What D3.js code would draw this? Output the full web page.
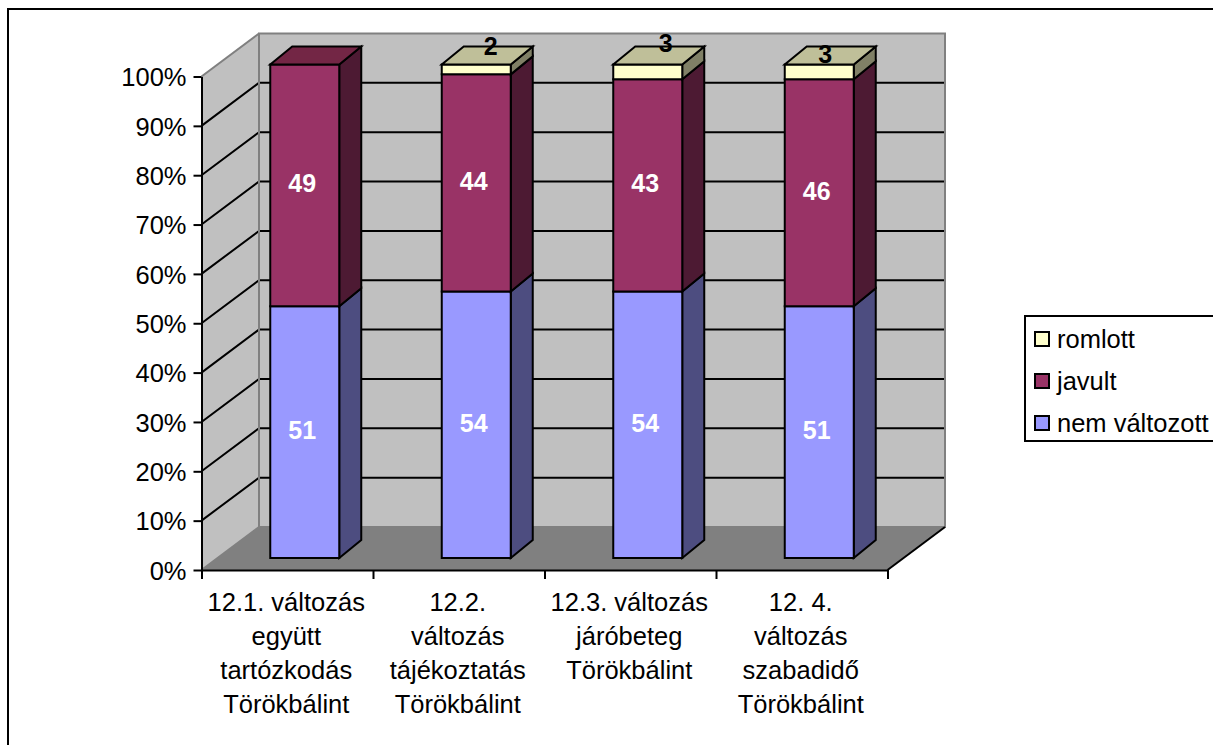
<!DOCTYPE html>
<html>
<head>
<meta charset="utf-8">
<script src="https://cdn.jsdelivr.net/npm/d3@7"></script>
<style>
  html, body { margin: 0; padding: 0; background: #fff; }
  svg { display: block; }
  text { font-family: "Liberation Sans", Arial, sans-serif; fill: #000; }
</style>
</head>
<body>
<svg id="chart" width="1213" height="745"></svg>
<script>
// Survey results per question, stacked to 100%
const categories = ["q1", "q2", "q3", "q4"];
const categoryLines = [
  ["12.1. változás", "együtt", "tartózkodás", "Törökbálint"],
  ["12.2.", "változás", "tájékoztatás", "Törökbálint"],
  ["12.3. változás", "járóbeteg", "Törökbálint"],
  ["12. 4.", "változás", "szabadidő", "Törökbálint"]
];
const nemValtozott = [51, 54, 54, 51];
const javult = [49, 44, 43, 46];
const romlott = [0, 2, 3, 3];
const seriesNames = ["nem változott", "javult", "romlott"];
const seriesFront = ["#9999FF", "#993366", "#FFFFCC"];
const seriesSide = ["#4D4D80", "#4D1A33", "#808066"];
const seriesTop = ["#7373BF", "#732645", "#BFBF99"];
const tickValues = [0, 10, 20, 30, 40, 50, 60, 70, 80, 90, 100];

const svg = d3.select("#chart");

// Outer chart frame; it runs off the right and bottom of the page
svg.append("rect").attr("x", 8).attr("y", 9).attr("width", 1210).attr("height", 740)
  .attr("fill", "#fff").attr("stroke", "#000").attr("stroke-width", 2);

// Front plane of the oblique box, plus the shift that leads to the back wall
const y = d3.scaleLinear().domain([0, 100]).range([570, 76.5]);
const x = d3.scaleBand().domain(categories).range([201.5, 887.5]);
const depth = { dx: 57.5, dy: -43 };
const barLift = -12;                       // bars stand slightly behind the front edge
const barShift = 17.5;
const barWidth = 69;
const barSide = { dx: 22, dy: -18 };

const at = (px, py, d) => [px + depth.dx * d, py + depth.dy * d];
const poly = pts => "M" + pts.map(p => p.join(",")).join("L") + "Z";

const walls = svg.append("g");
const x0 = x.range()[0], x1 = x.range()[1];
const yB = y(0), yT = y(100);

// Back wall, side wall and floor fills
walls.append("path").attr("d", poly([at(x0, yB, 1), at(x1, yB, 1), at(x1, yT, 1), at(x0, yT, 1)]))
  .attr("fill", "#C0C0C0");
walls.append("path").attr("d", poly([[x0, yB], at(x0, yB, 1), at(x0, yT, 1), [x0, yT]]))
  .attr("fill", "#C0C0C0");
walls.append("path").attr("d", poly([[x0, yB], [x1, yB], at(x1, yB, 1), at(x0, yB, 1)]))
  .attr("fill", "#808080");

// Gridlines run along the side wall and across the back wall
const grid = svg.append("g").attr("stroke", "#000").attr("stroke-width", 2).attr("fill", "none");
tickValues.filter(v => v > 0 && v < 100).forEach(v => {
  const a = [x0, y(v)], b = at(x0, y(v), 1), c = at(x1, y(v), 1);
  grid.append("path").attr("d", `M${a.join(",")}L${b.join(",")}L${c.join(",")}`);
});

// Grey wall outlines sit over the gridlines
const edges3d = svg.append("g").attr("stroke", "#808080").attr("stroke-width", 2).attr("fill", "none");
edges3d.append("path").attr("d", poly([at(x0, yB, 1), at(x1, yB, 1), at(x1, yT, 1), at(x0, yT, 1)]));
edges3d.append("path").attr("d", `M${x0},${yT}L${at(x0, yT, 1).join(",")}`);
edges3d.append("path").attr("d", `M${x0},${yB}L${at(x0, yB, 1).join(",")}`);
svg.append("path").attr("d", `M${x1},${yB}L${at(x1, yB, 1).join(",")}`)
  .attr("stroke", "#000").attr("stroke-width", 2).attr("fill", "none");

// Stacked 3D bars, drawn bottom-up in each column
const stack = d3.stack().keys([0, 1, 2]).value((d, k) => d[k]);
const rows = categories.map((c, i) => [nemValtozott[i], javult[i], romlott[i]]);
const layers = stack(rows);
const bars = svg.append("g").attr("stroke", "#000").attr("stroke-width", 2).attr("stroke-linejoin", "miter");
const off = p => [p[0] + barSide.dx, p[1] + barSide.dy];

categories.forEach((c, i) => {
  const left = x(c) + x.bandwidth() / 2 - barWidth / 2 + barShift;
  const right = left + barWidth;
  layers.forEach((layer, s) => {
    const [v0, v1] = layer[i];
    if (v1 - v0 <= 0) return;
    const yl = y(v0) + barLift;
    const yh = y(v1) + barLift;
    bars.append("path").attr("d", poly([[right, yl], off([right, yl]), off([right, yh]), [right, yh]])).attr("fill", seriesSide[s]);
    bars.append("path").attr("d", poly([[left, yl], [right, yl], [right, yh], [left, yh]])).attr("fill", seriesFront[s]);
    if (layers.slice(s + 1).every(l => l[i][1] - l[i][0] <= 0)) {
      bars.append("path").attr("d", poly([[left, yh], [right, yh], off([right, yh]), off([left, yh])])).attr("fill", seriesTop[s]);
    }
  });
});

// Value labels: white inside the tall segments, black above the thin top segment
const topLabelNudge = [[0, 0], [0, 0], [3.5, -5], [-8.5, 5.5]];
const labels = svg.append("g").attr("font-size", 25).attr("font-weight", "bold").attr("text-anchor", "middle");
categories.forEach((c, i) => {
  const cx = x(c) + x.bandwidth() / 2 + 18 - 3;
  layers.forEach((layer, s) => {
    const [v0, v1] = layer[i];
    if (v1 - v0 <= 0) return;
    const ym = y((v0 + v1) / 2) + barLift;
    if (s < 2) {
      labels.append("text").attr("x", cx).attr("y", ym - 2).attr("dy", "0.36em")
        .style("fill", "#fff").text(v1 - v0);
    } else {
      labels.append("text").attr("x", cx + 17 + topLabelNudge[i][0]).attr("y", ym - 23.5 + topLabelNudge[i][1]).attr("dy", "0.36em")
        .text(v1 - v0);
    }
  });
});

// Value axis on the front plane
const yAxis = d3.axisLeft(y).tickValues(tickValues).tickFormat(d => d + "%").tickSize(8).tickSizeOuter(0).tickPadding(7);
const yG = svg.append("g").attr("transform", `translate(${x0},0)`).call(yAxis);
yG.selectAll("text").attr("font-size", 25.5).attr("dy", "0.36em");
yG.selectAll("line,path").attr("stroke", "#000").attr("stroke-width", 2);

// Category axis: ticks sit on band edges, labels wrap over several lines
const edges = categories.map(c => x(c)).concat([x1]);
const xAxisScale = d3.scaleLinear().domain([x0, x1]).range([x0, x1]);
const xAxis = d3.axisBottom(xAxisScale).tickValues(edges).tickFormat("").tickSize(9).tickSizeOuter(0);
const xG = svg.append("g").attr("transform", `translate(0,${yB})`).call(xAxis);
xG.selectAll("line,path").attr("stroke", "#000").attr("stroke-width", 2);

const catG = svg.append("g").attr("font-size", 25.5).attr("text-anchor", "middle");
categories.forEach((c, i) => {
  const t = catG.append("text");
  categoryLines[i].forEach((line, k) => {
    t.append("tspan").attr("x", x(c) + x.bandwidth() / 2 - 1).attr("y", 611 + k * 34).text(line);
  });
});

// Legend
const legend = svg.append("g");
legend.append("rect").attr("x", 1025).attr("y", 316).attr("width", 195).attr("height", 125)
  .attr("fill", "#fff").attr("stroke", "#000").attr("stroke-width", 2);
[2, 1, 0].forEach((s, k) => {
  const cy = 339 + k * 42;
  legend.append("rect").attr("x", 1035).attr("y", cy - 7).attr("width", 14).attr("height", 14)
    .attr("fill", seriesFront[s]).attr("stroke", "#000").attr("stroke-width", 2);
  legend.append("text").attr("x", 1057).attr("y", cy - 0.5).attr("dy", "0.36em").attr("font-size", 25.5).text(seriesNames[s]);
});
</script>
</body>
</html>
